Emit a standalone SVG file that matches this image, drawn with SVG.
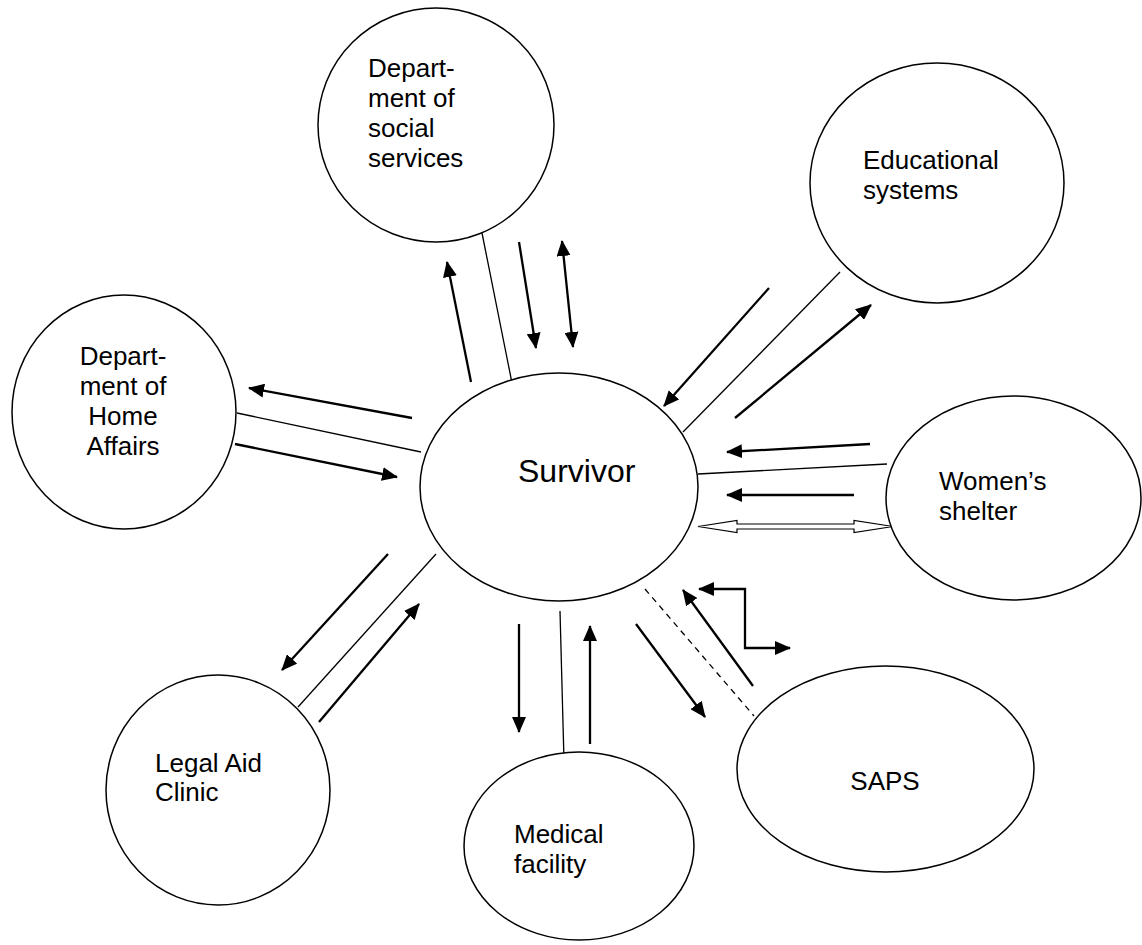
<svg xmlns="http://www.w3.org/2000/svg" width="1142" height="945" viewBox="0 0 1142 945">
<style>
.node{fill:#fff;stroke:#000;stroke-width:1.5}
.lbl{font-family:"Liberation Sans",Arial,sans-serif;font-size:26px;fill:#000}
.big{font-size:32px}
.plain{stroke:#000;stroke-width:1.3;fill:none}
.arr{stroke:#000;stroke-width:2.3;fill:none;marker-end:url(#ah)}
.arr2{stroke:#000;stroke-width:2.3;fill:none;marker-start:url(#ah);marker-end:url(#ah)}
.dash{stroke:#000;stroke-width:1.3;fill:none;stroke-dasharray:6 5}
.block{fill:#fff;stroke:#000;stroke-width:1.2}
</style>
<defs>
<marker id="ah" markerUnits="userSpaceOnUse" viewBox="0 0 16 14" refX="15" refY="7" markerWidth="16" markerHeight="14" orient="auto-start-reverse">
<path d="M0,0 L16,7 L0,14 Z" fill="#000"/>
</marker>
</defs>
<rect width="1142" height="945" fill="#fff"/>
<g id="connectors">
<line class="arr" x1="471" y1="382" x2="447" y2="262"/>
<line class="plain" x1="482" y1="233" x2="512" y2="383"/>
<line class="arr" x1="519" y1="242" x2="536" y2="348"/>
<line class="arr2" x1="562" y1="241" x2="573" y2="347"/>
<line class="arr" x1="412" y1="418" x2="249" y2="388"/>
<line class="plain" x1="237" y1="413" x2="421" y2="452"/>
<line class="arr" x1="235" y1="444" x2="397" y2="477"/>
<line class="arr" x1="769" y1="288" x2="664" y2="406"/>
<line class="plain" x1="840" y1="272" x2="683" y2="432"/>
<line class="arr" x1="735" y1="418" x2="871" y2="305"/>
<line class="arr" x1="870" y1="444" x2="727" y2="452"/>
<line class="plain" x1="698" y1="474" x2="887" y2="464"/>
<line class="arr" x1="854" y1="495" x2="727" y2="495"/>
<polygon class="block" points="698,526.5 737,520.5 737,524 854,524 854,520.5 893,526.5 854,532.5 854,529 737,529 737,532.5"/>
<line class="arr" x1="636" y1="624" x2="705" y2="717"/>
<line class="dash" x1="645" y1="589" x2="754" y2="716"/>
<line class="arr" x1="753" y1="686" x2="683" y2="590"/>
<polyline class="arr2" points="699,589 745,589 745,648 790,648"/>
<line class="arr" x1="519" y1="624" x2="519" y2="732"/>
<line class="plain" x1="560" y1="611" x2="564" y2="761"/>
<line class="arr" x1="590" y1="744" x2="590" y2="626"/>
<line class="arr" x1="388" y1="554" x2="282" y2="670"/>
<line class="plain" x1="436" y1="554" x2="298" y2="707"/>
<line class="arr" x1="319" y1="722" x2="419" y2="604"/>
</g>
<g id="social">
<ellipse class="node" cx="436" cy="125" rx="118" ry="117"/>
<text class="lbl" x="368" y="77">Depart-</text>
<text class="lbl" x="368" y="107">ment of</text>
<text class="lbl" x="368" y="137">social</text>
<text class="lbl" x="368" y="167">services</text>
</g>
<g id="educational">
<ellipse class="node" cx="937" cy="183" rx="127" ry="120"/>
<text class="lbl" x="863" y="169">Educational</text>
<text class="lbl" x="863" y="199">systems</text>
</g>
<g id="homeaffairs">
<ellipse class="node" cx="124" cy="412" rx="112" ry="117"/>
<text class="lbl" x="123" y="365" text-anchor="middle">Depart-</text>
<text class="lbl" x="123" y="395" text-anchor="middle">ment of</text>
<text class="lbl" x="123" y="425" text-anchor="middle">Home</text>
<text class="lbl" x="123" y="455" text-anchor="middle">Affairs</text>
</g>
<g id="survivor">
<ellipse class="node" cx="559" cy="487" rx="139" ry="114"/>
<text class="lbl big" x="518" y="482">Survivor</text>
</g>
<g id="womens">
<ellipse class="node" cx="1013.5" cy="498" rx="127.5" ry="102"/>
<text class="lbl" x="939" y="490">Women’s</text>
<text class="lbl" x="939" y="520">shelter</text>
</g>
<g id="saps">
<ellipse class="node" cx="885.5" cy="769" rx="148.5" ry="103"/>
<text class="lbl" x="885" y="790" text-anchor="middle">SAPS</text>
</g>
<g id="medical">
<ellipse class="node" cx="579" cy="846" rx="115" ry="94"/>
<text class="lbl" x="514" y="843">Medical</text>
<text class="lbl" x="514" y="873">facility</text>
</g>
<g id="legal">
<ellipse class="node" cx="218" cy="790" rx="112" ry="115"/>
<text class="lbl" x="155" y="772">Legal Aid</text>
<text class="lbl" x="155" y="801">Clinic</text>
</g>
</svg>
